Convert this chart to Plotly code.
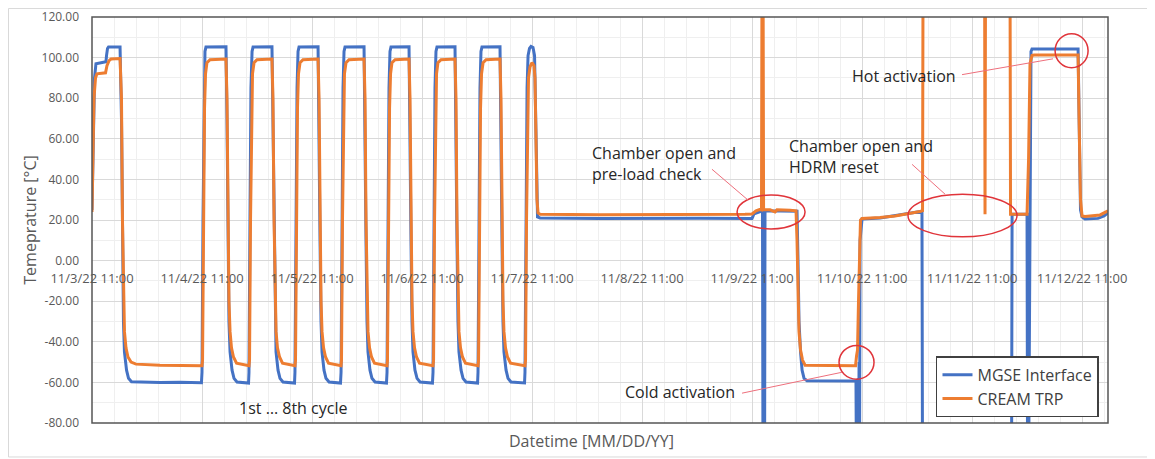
import pandas as pd
import plotly.graph_objects as go

# ---------------- data (days since 11/3/22 11:00, temperature in °C) ----------------
start = pd.Timestamp("2022-11-03 11:00")

mgse_days = [
    0.000, 0.009, 0.023, 0.036, 0.127, 0.132, 0.141, 0.150, 0.255,
    0.268, 0.277, 0.286, 0.295, 0.314, 0.332, 0.359, 0.618, 0.800, 0.995,
    1.000, 1.009, 1.018, 1.027, 1.036, 1.218,
    1.227, 1.236, 1.245, 1.255, 1.273, 1.291, 1.318, 1.423,
    1.427, 1.436, 1.445, 1.455, 1.464, 1.636,
    1.645, 1.655, 1.664, 1.673, 1.691, 1.709, 1.736, 1.841,
    1.845, 1.855, 1.864, 1.873, 1.882, 2.055,
    2.064, 2.073, 2.082, 2.091, 2.109, 2.127, 2.155, 2.259,
    2.264, 2.273, 2.282, 2.291, 2.300, 2.473,
    2.482, 2.491, 2.500, 2.509, 2.527, 2.545, 2.573, 2.677,
    2.682, 2.691, 2.700, 2.709, 2.718, 2.882,
    2.891, 2.900, 2.909, 2.918, 2.936, 2.955, 2.982, 3.095,
    3.100, 3.109, 3.118, 3.127, 3.136, 3.300,
    3.309, 3.318, 3.327, 3.336, 3.355, 3.373, 3.400, 3.505,
    3.509, 3.518, 3.527, 3.536, 3.545, 3.709,
    3.718, 3.727, 3.736, 3.745, 3.764, 3.782, 3.809, 3.932,
    3.936, 3.945, 3.955, 3.964, 3.977, 3.991, 4.009, 4.023,
    4.032, 4.041, 4.050, 4.073, 4.618, 5.527, 6.000, 6.018, 6.073, 6.095,
    6.100, 6.114, 6.118, 6.409,
    6.418, 6.427, 6.441, 6.455, 6.473, 6.500, 6.945,
    6.950, 6.955, 6.959, 6.964, 6.968, 6.973, 6.977, 6.982, 7.000,
    7.164, 7.345, 7.509, 7.545, 7.550, 8.359, 8.364, 8.500, 8.505, 8.514,
    8.536, 8.545, 8.964, 8.973, 8.986, 9.000, 9.027, 9.145, 9.200, 9.236,
]
mgse_temp = [
    25, 50, 90, 97, 98, 101, 104.5, 105.2, 105.2,
    70, 10, -30, -45, -54, -58, -59.7, -60.1, -59.9, -60.2,
    -55, 20, 85, 103, 105.2, 105.3,
    70, 10, -30, -45, -54, -58, -59.8, -60.3,
    -55, 20, 85, 103, 105.2, 105.3,
    70, 10, -30, -45, -54, -58, -59.8, -60.3,
    -55, 20, 85, 103, 105.2, 105.3,
    70, 10, -30, -45, -54, -58, -59.8, -60.3,
    -55, 20, 85, 103, 105.2, 105.3,
    70, 10, -30, -45, -54, -58, -59.8, -60.3,
    -55, 20, 85, 103, 105.2, 105.3,
    70, 10, -30, -45, -54, -58, -59.8, -60.3,
    -55, 20, 85, 103, 105.2, 105.3,
    70, 10, -30, -45, -54, -58, -59.8, -60.3,
    -55, 20, 85, 103, 105.2, 105.3,
    70, 10, -30, -45, -54, -58, -59.8, -60.3,
    -55, 20, 85, 101, 104.5, 105.5, 105, 101,
    70, 30, 21.5, 21, 20.8, 20.9, 20.8, 23, 24, 24.5,
    -110, -110, 24.5, 24.3,
    0, -30, -45, -54, -58, -59.2, -59.3,
    -110, -59, -110, -58, -110, -50, -110, 10, 20.5,
    21, 22.5, 24, 24.3, -110, -110, 22.8, 22.8, -110, -110,
    103, 104.2, 104.2, 60, 25, 21.5, 20.5, 20.8, 22, 23.5,
]

cream_days = [
    0.000, 0.009, 0.018, 0.032, 0.045, 0.123, 0.136, 0.155, 0.173, 0.255,
    0.268, 0.277, 0.286, 0.295, 0.309, 0.327, 0.355, 0.400, 0.618, 1.000,
    1.005, 1.014, 1.023, 1.032, 1.045, 1.073, 1.218,
    1.227, 1.236, 1.245, 1.255, 1.268, 1.286, 1.314, 1.427,
    1.432, 1.441, 1.450, 1.459, 1.473, 1.500, 1.636,
    1.645, 1.655, 1.664, 1.673, 1.686, 1.705, 1.732, 1.845,
    1.850, 1.859, 1.868, 1.877, 1.891, 1.918, 2.055,
    2.064, 2.073, 2.082, 2.091, 2.105, 2.123, 2.150, 2.264,
    2.268, 2.277, 2.286, 2.295, 2.309, 2.336, 2.473,
    2.482, 2.491, 2.500, 2.509, 2.523, 2.541, 2.568, 2.682,
    2.686, 2.695, 2.705, 2.714, 2.727, 2.755, 2.882,
    2.891, 2.900, 2.909, 2.918, 2.932, 2.950, 2.977, 3.100,
    3.105, 3.114, 3.123, 3.132, 3.145, 3.173, 3.300,
    3.309, 3.318, 3.327, 3.336, 3.350, 3.368, 3.395, 3.509,
    3.514, 3.523, 3.532, 3.541, 3.555, 3.582, 3.709,
    3.718, 3.727, 3.736, 3.745, 3.759, 3.777, 3.805, 3.936,
    3.941, 3.950, 3.959, 3.968, 3.982, 4.000, 4.018, 4.027,
    4.036, 4.045, 4.055, 4.073, 4.618, 5.527, 5.936, 6.000, 6.036, 6.073, 6.086,
    6.091, 6.100, 6.105, 6.164, 6.209, 6.227, 6.345, 6.400,
    6.409, 6.418, 6.427, 6.441, 6.459, 6.482, 6.941,
    6.950, 6.959, 6.968, 6.977, 6.986, 7.000, 7.164, 7.300, 7.436, 7.527, 7.550,
    7.555, 8.114, 8.118, 8.123, 8.345, 8.350, 8.500,
    8.514, 8.527, 8.545, 8.564, 8.964, 8.973, 8.986, 9.000, 9.027, 9.164, 9.236,
]
cream_temp = [
    24, 45, 80, 90, 92, 92.5, 96, 98.5, 99.3, 99.5,
    80, 20, -20, -35, -43, -47.5, -50, -51, -51.5, -51.8,
    -49, 20, 75, 92, 97.5, 99, 99.3,
    80, 20, -20, -35, -43, -47.5, -50.5, -51.8,
    -49, 20, 75, 92, 97.5, 99, 99.3,
    80, 20, -20, -35, -43, -47.5, -50.5, -51.8,
    -49, 20, 75, 92, 97.5, 99, 99.3,
    80, 20, -20, -35, -43, -47.5, -50.5, -51.8,
    -49, 20, 75, 92, 97.5, 99, 99.3,
    80, 20, -20, -35, -43, -47.5, -50.5, -51.8,
    -49, 20, 75, 92, 97.5, 99, 99.3,
    80, 20, -20, -35, -43, -47.5, -50.5, -51.8,
    -49, 20, 75, 92, 97.5, 99, 99.3,
    80, 20, -20, -35, -43, -47.5, -50.5, -51.8,
    -49, 20, 75, 92, 97.5, 99, 99.3,
    80, 20, -20, -35, -43, -47.5, -50.5, -51.8,
    -49, 20, 75, 90, 95.5, 97.5, 96, 90,
    60, 30, 23.5, 22.8, 22.6, 22.5, 22.8, 23, 24.5, 25.2, 25,
    150, 150, 25, 25, 24, 25, 24.8, 24.5,
    10, -15, -35, -44, -49, -51.5, -51.8,
    -47, -44, -20, 10, 20, 20.8, 21.2, 22, 23.2, 24.2, 24.6,
    150, 150, 22.8, 150, 150, 22.8, 22.8,
    50, 97, 101, 101.3, 101.3, 70, 30, 22, 21.7, 22.5, 24.5,
]

series_names = ["MGSE Interface", "CREAM TRP"]
tick_labels = ["11/3/22 11:00", "11/4/22 11:00", "11/5/22 11:00", "11/6/22 11:00",
               "11/7/22 11:00", "11/8/22 11:00", "11/9/22 11:00", "11/10/22 11:00",
               "11/11/22 11:00", "11/12/22 11:00"]
y_ticks = [-80, -60, -40, -20, 0, 20, 40, 60, 80, 100, 120]

# ---------------- figure ----------------
def to_dt(days):
    return start + pd.to_timedelta(pd.Series(days, dtype=float), unit="D")

def dt1(d):
    return (start + pd.Timedelta(days=d)).strftime("%Y-%m-%d %H:%M:%S")

BLUE = "#4472C4"
ORANGE = "#ED7D31"
GRAY = "#595959"

fig = go.Figure()
fig.add_trace(go.Scatter(x=to_dt(mgse_days), y=mgse_temp, mode="lines",
                         name=series_names[0], line=dict(color=BLUE, width=3)))
fig.add_trace(go.Scatter(x=to_dt(cream_days), y=cream_temp, mode="lines",
                         name=series_names[1], line=dict(color=ORANGE, width=3)))

tickvals = [dt1(k) for k in range(len(tick_labels))]

fig.update_layout(
    width=1147, height=451,
    margin=dict(l=84, r=47, t=9, b=36),
    paper_bgcolor="white", plot_bgcolor="white",
    font=dict(family="Open Sans, Noto Sans, sans-serif", color=GRAY),
    legend=dict(x=0.8307, y=0.1642, xanchor="left", yanchor="top",
                bgcolor="white", bordercolor="#404040", borderwidth=1.5,
                font=dict(size=16, color="#404040"), itemwidth=30,
                tracegroupgap=0),
    xaxis=dict(
        type="date", range=[dt1(0), dt1(9.236)],
        anchor="free", position=0.4, automargin=False,
        tickmode="array", tickvals=tickvals, ticktext=tick_labels,
        ticks="", showline=False, zeroline=False, ticklabelstandoff=8,
        showgrid=True, gridcolor="#d9d9d9", gridwidth=1,
        minor=dict(tick0=dt1(0), dtick=4.8 * 3600 * 1000, showgrid=True,
                   gridcolor="#efefef", gridwidth=1, ticks=""),
        tickfont=dict(size=13, color=GRAY),
    ),
    yaxis=dict(
        range=[-80.001, 120.001], tickmode="array", tickvals=y_ticks,
        ticktext=[f"{v:.2f}" for v in y_ticks],
        automargin=False, ticklabeloverflow="allow",
        showgrid=True, gridcolor="#d9d9d9", gridwidth=1,
        minor=dict(tick0=0, dtick=10, showgrid=True, gridcolor="#efefef", gridwidth=1, ticks=""),
        zeroline=True, zerolinecolor="#d9d9d9", zerolinewidth=1,
        showline=False, ticks="", ticklabelstandoff=12,
        tickfont=dict(size=12, color=GRAY),
        title=dict(text="Temeprature [°C]", font=dict(size=16, color=GRAY), standoff=0),
    ),
)

# plot frame and outer chart border
fig.add_shape(type="rect", xref="paper", yref="paper", x0=0, x1=1, y0=0, y1=1,
              line=dict(color="#555555", width=1.5), layer="above")
fig.add_shape(type="rect", xref="paper", yref="paper", x0=-0.0822, x1=1.06,
              y0=-0.0837, y1=1.021, line=dict(color="#d9d9d9", width=1), layer="below")

# red marker ellipses
RED = "#e0343a"
for d0, d1, t0, t1 in [(5.864, 6.482, 15.6, 32.3),
                       (7.418, 8.409, 11.7, 32.7),
                       (8.755, 9.055, 95.0, 111.7),
                       (6.791, 7.109, -58.4, -41.8)]:
    fig.add_shape(type="circle", xref="x", yref="y", x0=dt1(d0), x1=dt1(d1),
                  y0=t0, y1=t1, line=dict(color=RED, width=1.5))

# thin pointer lines
PINK = "#ee6f7c"
for d0, t0, d1, t1 in [(5.636, 45.0, 5.964, 29.8),
                       (7.455, 47.4, 7.755, 32.7),
                       (7.909, 91.6, 8.736, 99.4),
                       (5.909, -65.3, 6.818, -55.0)]:
    fig.add_shape(type="line", xref="x", yref="y", x0=dt1(d0), x1=dt1(d1),
                  y0=t0, y1=t1, line=dict(color=PINK, width=1))

# text annotations
TXT = "#262626"
for d, t, s in [(4.527, 47.7, "Chamber open and<br>pre-load check"),
                (6.318, 51.4, "Chamber open and<br>HDRM reset"),
                (6.891, 91.1, "Hot activation"),
                (4.827, -64.8, "Cold activation"),
                (1.318, -72.6, "1st … 8th cycle")]:
    fig.add_annotation(x=dt1(d), y=t, xref="x", yref="y", text=s, showarrow=False,
                       xanchor="left", yanchor="middle", align="left",
                       font=dict(size=16, color=TXT))

fig.add_annotation(x=0.492, y=-0.044, xref="paper", yref="paper",
                   text="Datetime [MM/DD/YY]", showarrow=False,
                   xanchor="center", yanchor="middle",
                   font=dict(size=16, color=GRAY))

fig.write_html("out.html")
